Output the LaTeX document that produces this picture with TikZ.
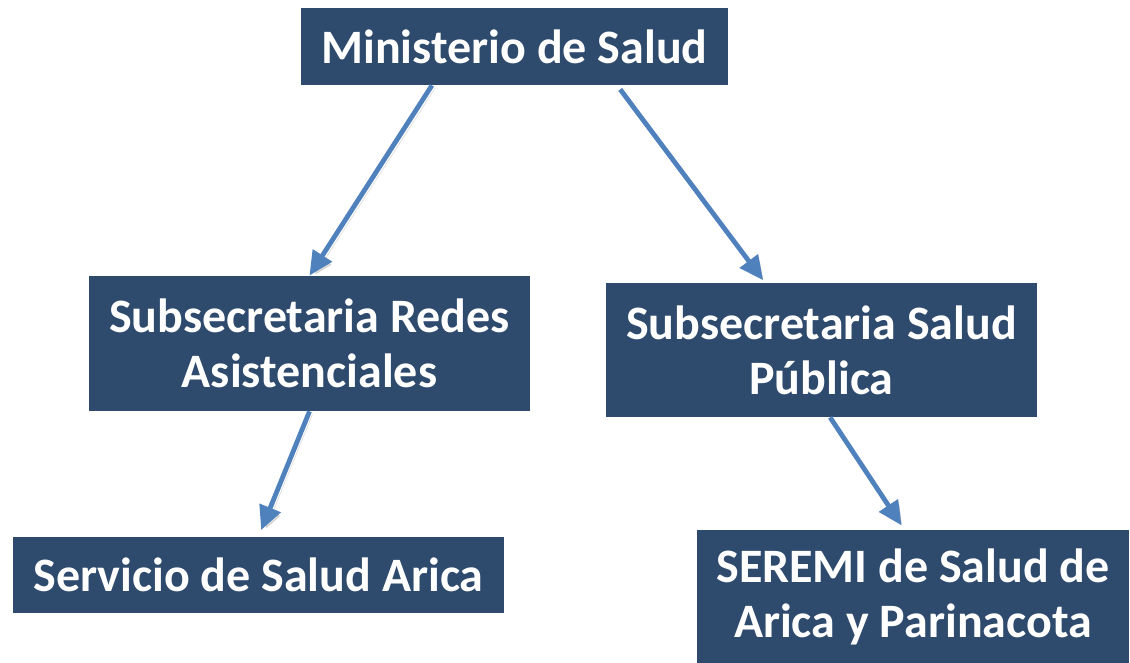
\documentclass[tikz,border=0pt]{standalone}
\usepackage{fontspec}
\setmainfont{Carlito}
\usetikzlibrary{arrows.meta,calc}
\definecolor{boxblue}{RGB}{46,74,109}
\definecolor{arrowblue}{RGB}{79,129,189}
\tikzset{
  unit/.style={fill=boxblue,text=white,align=center,inner sep=0pt,
    font=\bfseries\fontsize{24}{27.5}\selectfont},
  arrow/.style={-{Triangle[length=12pt,width=11pt]}, line width=2.4pt, draw=arrowblue,
    preaction={draw=black, opacity=0.12, transform canvas={shift={(1.5pt,-1.5pt)}}}}}

\begin{document}
\begin{tikzpicture}[x=0.5pt,y=0.5pt]
    \useasboundingbox (0,0) rectangle (1130,663);
    \node[unit, minimum width=213.5pt, minimum height=38.5pt] (min) at (514.5,616.5) {Ministerio de Salud};
    \node[unit, minimum width=220.5pt, minimum height=67.5pt] (redes) at (309.5,319.5) {Subsecretaria Redes\\Asistenciales};
    \node[unit, minimum width=215.5pt, minimum height=67pt] (publica) at (821.5,313) {Subsecretaria Salud\\P\'ublica};
    \node[unit, minimum width=245.5pt, minimum height=38pt] (servicio) at (258.5,88) {Servicio de Salud Arica};
    \node[unit, minimum width=216pt, minimum height=66.5pt] (seremi) at (913,66.5) {SEREMI de Salud de\\Arica y Parinacota};
    \draw[arrow] ($(min.south west)!0.307!(min.south east)$) -- (redes.north);
    \draw[arrow, shorten <=2.5pt, shorten >=1.5pt] ($(min.south west)!0.74!(min.south east)$)
      -- ($(publica.north west)!0.369!(publica.north east)$);
    \draw[arrow, shorten >=3.5pt] (redes.south) -- (servicio.north);
    \draw[arrow, shorten >=2.5pt] ($(publica.south west)!0.52!(publica.south east)$)
      -- ($(seremi.north west)!0.48!(seremi.north east)$);
\end{tikzpicture}
\end{document}
